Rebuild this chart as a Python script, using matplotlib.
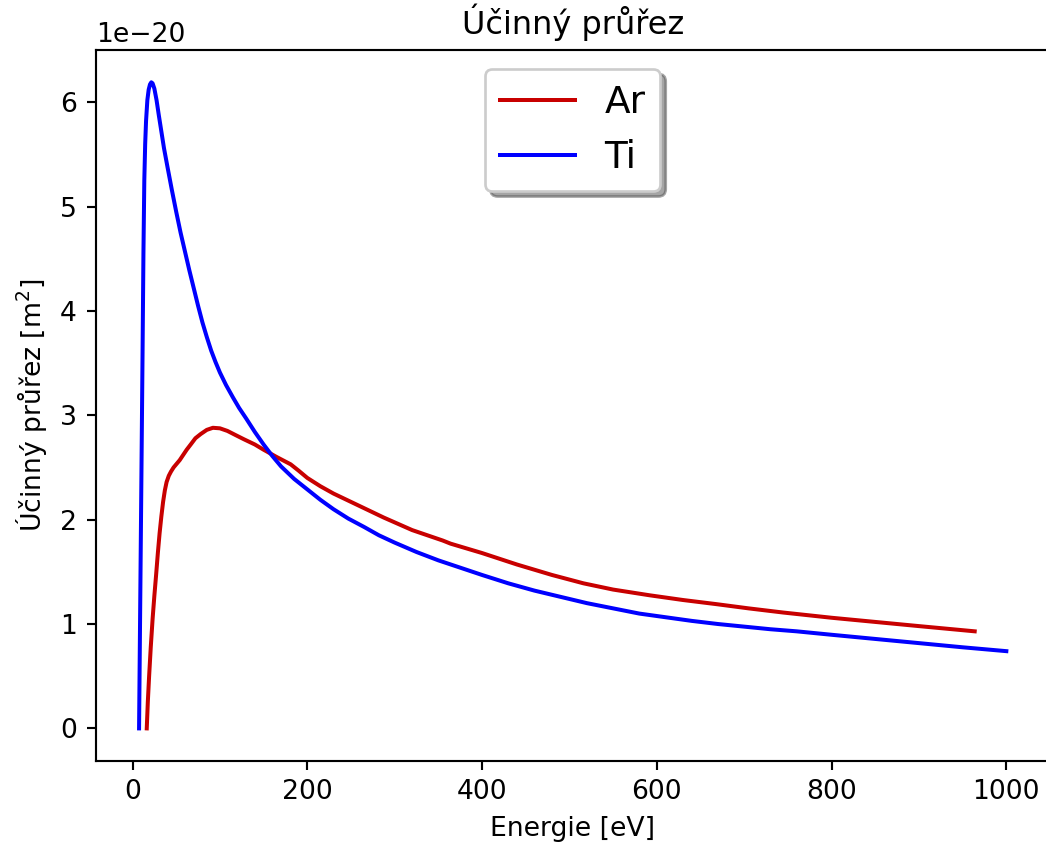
import numpy as np
import matplotlib.pyplot as plt


DPI = 192
SCALE = 1e-20

# Ar - energie [eV] a ucinny prurez [1e-20 m^2]
ar_energy = [16.3, 17.5, 19, 20.9, 23, 25, 27, 29, 31, 33, 35, 37, 39, 41.5,
             44, 47, 50, 54, 58, 62, 66.6, 72, 78, 85, 92, 100, 108.6, 118,
             127.5, 140, 150, 165, 181, 190, 200, 215, 230, 260, 287.5, 320,
             355, 364, 400, 440, 480, 516, 550, 592, 630, 668.6, 705, 744.7,
             800, 850, 900, 963.8]
ar_sigma = [0, 0.25, 0.5, 0.78, 1.05, 1.27, 1.47, 1.68, 1.87, 2.03, 2.17,
            2.28, 2.36, 2.42, 2.46, 2.5, 2.53, 2.57, 2.62, 2.67, 2.72, 2.78,
            2.82, 2.86, 2.88, 2.875, 2.85, 2.81, 2.77, 2.72, 2.67, 2.6, 2.53,
            2.47, 2.40, 2.32, 2.25, 2.13, 2.02, 1.9, 1.8, 1.77, 1.68, 1.57,
            1.47, 1.39, 1.33, 1.275, 1.23, 1.19, 1.15, 1.11, 1.06, 1.02, 0.98,
            0.93]

# Ti
ti_energy = [7.5, 8.5, 9.5, 10.5, 11.5, 12.5, 13.5, 14.5, 15.5, 17, 18.5, 20,
             21.5, 23, 25, 27.5, 30, 33, 36, 40, 45, 50, 55, 60, 65, 70, 75,
             80, 85, 90, 95, 100, 107, 115, 122, 130, 140, 150, 160, 170, 185,
             200, 215, 230, 247, 265, 282, 300, 325, 350, 375, 400, 430, 460,
             490, 520, 550, 580, 610, 640, 670, 700, 730, 760, 800, 850, 900,
             950, 1000]
ti_sigma = [0, 0.9, 1.8, 2.7, 3.6, 4.55, 5.25, 5.6, 5.82, 6.02, 6.12, 6.17,
            6.19, 6.18, 6.13, 6.02, 5.88, 5.72, 5.56, 5.38, 5.16, 4.95, 4.75,
            4.57, 4.39, 4.22, 4.05, 3.89, 3.75, 3.62, 3.51, 3.41, 3.29, 3.17,
            3.07, 2.97, 2.84, 2.72, 2.61, 2.51, 2.39, 2.29, 2.19, 2.1, 2.01,
            1.93, 1.85, 1.78, 1.69, 1.61, 1.54, 1.47, 1.39, 1.32, 1.26, 1.2,
            1.15, 1.10, 1.065, 1.03, 1.0, 0.975, 0.95, 0.93, 0.897, 0.857,
            0.817, 0.777, 0.74]


fig = plt.figure(figsize=(1046 / DPI, 843 / DPI), dpi=DPI)
ax = fig.add_axes([95.7 / 1046, (843 - 760.7) / 843, 954 / 1046, 710.7 / 843])

ax.plot(ar_energy, np.array(ar_sigma) * SCALE, color="#c80000", lw=1.5, label="Ar")
ax.plot(ti_energy, np.array(ti_sigma) * SCALE, color="blue", lw=1.5, label="Ti")

ax.set_title("Účinný průřez")
ax.set_xlabel("Energie [eV]")
ax.set_ylabel("Účinný průřez [m$^2$]")
ax.legend(loc="upper center", fontsize=14, shadow=True)

fig.savefig("out.png", dpi=DPI)
